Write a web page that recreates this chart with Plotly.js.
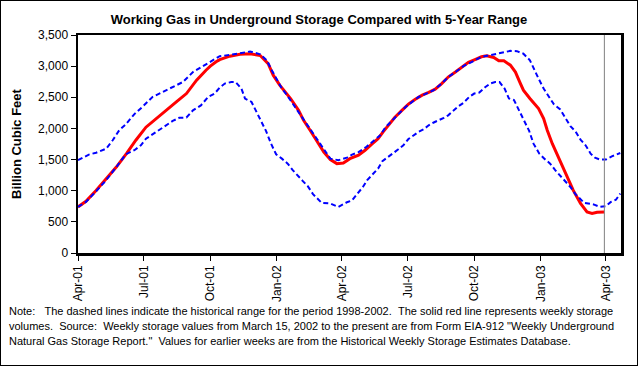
<!DOCTYPE html>
<html>
<head>
<meta charset="utf-8">
<script src="https://cdn.plot.ly/plotly-3.0.1.min.js"></script>
<style>
  html, body { margin: 0; padding: 0; background: #fff; }
  #wrap { position: relative; width: 638px; height: 366px; }
  #chart { width: 638px; height: 366px; }
  #frame { position: absolute; left: 0; top: 0; width: 636px; height: 364px; border: 1px solid #000; pointer-events: none; }
</style>
</head>
<body>
<div id="wrap"><div id="chart"></div><div id="frame"></div></div>
<script>
// Weekly working gas in storage (Bcf)
const actualDates = ['2001-04-01','2001-04-12','2001-04-26','2001-05-10','2001-05-24','2001-06-07','2001-06-20','2001-07-04','2001-07-18','2001-08-01','2001-08-15','2001-08-29','2001-09-12','2001-09-25','2001-10-01','2001-10-09','2001-10-14','2001-10-28','2001-11-11','2001-11-25','2001-12-09','2001-12-20','2001-12-27','2002-01-05','2002-01-20','2002-01-31','2002-02-07','2002-02-16','2002-02-25','2002-03-07','2002-03-16','2002-03-25','2002-04-03','2002-04-12','2002-04-24','2002-05-03','2002-05-12','2002-05-21','2002-05-28','2002-06-04','2002-06-13','2002-06-23','2002-07-02','2002-07-11','2002-07-21','2002-07-30','2002-08-08','2002-08-17','2002-08-26','2002-09-05','2002-09-14','2002-09-23','2002-10-02','2002-10-11','2002-10-18','2002-10-28','2002-11-04','2002-11-11','2002-11-20','2002-11-27','2002-12-03','2002-12-08','2002-12-17','2002-12-29','2003-01-05','2003-01-10','2003-01-17','2003-01-24','2003-02-01','2003-02-08','2003-02-15','2003-02-25','2003-03-06','2003-03-13','2003-03-20','2003-03-30'];
const actualValues = [740,830,1005,1185,1380,1595,1810,2020,2160,2290,2425,2560,2775,2935,3000,3070,3105,3160,3190,3200,3170,3040,2855,2695,2480,2290,2130,1970,1810,1620,1500,1435,1445,1515,1570,1650,1745,1835,1945,2050,2175,2290,2390,2465,2535,2580,2630,2720,2825,2905,2985,3060,3105,3150,3165,3140,3085,3085,3015,2905,2745,2615,2480,2320,2160,1970,1755,1570,1380,1195,1005,795,660,635,655,660];

// 5-year maximum (1998-2002)
const maxDates = ['2001-04-01','2001-04-16','2001-04-26','2001-05-10','2001-05-19','2001-05-28','2001-06-06','2001-06-18','2001-06-29','2001-07-13','2001-07-27','2001-08-10','2001-08-24','2001-09-07','2001-09-21','2001-10-05','2001-10-14','2001-10-28','2001-11-11','2001-11-25','2001-12-09','2001-12-18','2001-12-25','2002-01-01','2002-01-08','2002-01-15','2002-01-26','2002-02-05','2002-02-14','2002-02-23','2002-03-04','2002-03-16','2002-03-27','2002-04-08','2002-04-15','2002-04-24','2002-05-05','2002-05-14','2002-05-24','2002-05-31','2002-06-09','2002-06-18','2002-06-28','2002-07-07','2002-07-16','2002-07-25','2002-08-06','2002-08-17','2002-08-26','2002-09-05','2002-09-16','2002-09-28','2002-10-11','2002-10-23','2002-11-06','2002-11-20','2002-11-29','2002-12-08','2002-12-17','2002-12-22','2002-12-29','2003-01-05','2003-01-12','2003-01-19','2003-01-28','2003-02-04','2003-02-11','2003-02-18','2003-02-25','2003-03-04','2003-03-11','2003-03-17','2003-03-24','2003-04-01','2003-04-10','2003-04-21'];
const maxValues = [1490,1580,1610,1675,1810,1970,2065,2230,2345,2505,2585,2665,2745,2905,3000,3105,3160,3180,3210,3235,3190,3095,2935,2775,2640,2535,2345,2175,2025,1865,1705,1515,1490,1530,1580,1620,1705,1795,1890,2015,2120,2230,2345,2425,2505,2550,2615,2720,2825,2905,3000,3070,3150,3175,3210,3245,3240,3200,3095,2960,2800,2640,2520,2390,2305,2170,2035,1955,1820,1730,1595,1530,1500,1500,1555,1605];

// 5-year minimum (1998-2002)
const minDates = ['2001-04-01','2001-04-12','2001-04-26','2001-05-10','2001-05-24','2001-06-06','2001-06-18','2001-06-27','2001-07-04','2001-07-13','2001-07-27','2001-08-10','2001-08-19','2001-08-29','2001-09-07','2001-09-18','2001-09-28','2001-10-07','2001-10-14','2001-10-21','2001-10-30','2001-11-05','2001-11-13','2001-11-18','2001-11-27','2001-12-03','2001-12-10','2001-12-17','2001-12-24','2001-12-31','2002-01-08','2002-01-16','2002-01-23','2002-01-30','2002-02-06','2002-02-13','2002-02-20','2002-03-04','2002-03-16','2002-03-27','2002-04-08','2002-04-15','2002-04-23','2002-04-30','2002-05-06','2002-05-14','2002-05-21','2002-05-27','2002-06-03','2002-06-10','2002-06-18','2002-06-25','2002-07-02','2002-07-09','2002-07-16','2002-07-23','2002-07-30','2002-08-06','2002-08-13','2002-08-20','2002-08-26','2002-09-02','2002-09-09','2002-09-16','2002-09-24','2002-10-01','2002-10-08','2002-10-16','2002-10-23','2002-10-30','2002-11-05','2002-11-12','2002-11-18','2002-11-25','2002-12-03','2002-12-09','2002-12-16','2002-12-22','2002-12-30','2003-01-06','2003-01-14','2003-01-21','2003-01-28','2003-02-04','2003-02-11','2003-02-18','2003-03-02','2003-03-15','2003-03-24','2003-04-01','2003-04-08','2003-04-15','2003-04-21'];
const minValues = [740,820,990,1170,1380,1585,1650,1730,1835,1905,2025,2120,2170,2175,2290,2370,2505,2560,2655,2720,2745,2745,2640,2480,2425,2280,2120,1960,1755,1585,1515,1435,1330,1235,1155,1070,945,805,795,740,815,845,955,1060,1170,1275,1355,1475,1530,1595,1665,1730,1830,1890,1945,1985,2050,2095,2130,2170,2210,2290,2355,2410,2505,2560,2575,2660,2720,2745,2745,2640,2480,2455,2275,2120,1960,1755,1595,1515,1435,1330,1235,1155,1060,945,805,780,740,750,820,855,955];

const xTickDates = ['2001-04-01','2001-07-01','2001-10-01','2002-01-01','2002-04-01','2002-07-01','2002-10-01','2003-01-01','2003-04-01'];
const xTickLabels = ['Apr-01','Jul-01','Oct-01','Jan-02','Apr-02','Jul-02','Oct-02','Jan-03','Apr-03'];
const currentWeek = '2003-03-30';

const titleText = 'Working Gas in Underground Storage Compared with 5-Year Range';
const yTitleText = 'Billion Cubic Feet';
const noteLines = [
  'Note:\u00a0\u00a0\u00a0The dashed lines indicate the historical range for the period 1998-2002.\u00a0\u00a0The solid red line represents weekly storage',
  'volumes.\u00a0\u00a0Source:\u00a0\u00a0Weekly storage values from March 15, 2002 to the present are from Form EIA-912 "Weekly Underground',
  'Natural Gas Storage Report."\u00a0\u00a0Values for earlier weeks are from the Historical Weekly Storage Estimates Database.'
];

const FONT = 'Liberation Sans, Arial, sans-serif';

const traces = [
  { x: actualDates, y: actualValues, type: 'scatter', mode: 'lines', name: 'Working gas',
    line: { color: '#FF0000', width: 3 } },
  { x: maxDates, y: maxValues, type: 'scatter', mode: 'lines', name: '5-year max',
    line: { color: '#0000FF', width: 2, dash: '5px,3px' } },
  { x: minDates, y: minValues, type: 'scatter', mode: 'lines', name: '5-year min',
    line: { color: '#0000FF', width: 2, dash: '5px,3px' } }
];

const noteY = [-0.266, -0.335, -0.404];
const annotations = noteLines.map((t, i) => ({
  text: t, xref: 'paper', yref: 'paper', x: -0.1308, y: noteY[i],
  xanchor: 'left', yanchor: 'middle', showarrow: false, align: 'left',
  font: { family: FONT, size: 11, color: '#000' }
}));

const layout = {
  width: 638, height: 366,
  margin: { l: 78, r: 17, t: 35, b: 113 },
  paper_bgcolor: '#fff', plot_bgcolor: '#fff',
  showlegend: false,
  font: { family: FONT, size: 12, color: '#000' },
  title: { text: '<b>' + titleText + '</b>', font: { family: FONT, size: 13, color: '#000' },
           x: 0.5, xref: 'container', xanchor: 'center', y: 0.948, yref: 'container', yanchor: 'middle' },
  xaxis: {
    type: 'date', range: ['2001-04-01', '2003-04-22'],
    tickmode: 'array', tickvals: xTickDates, ticktext: xTickLabels, tickangle: -90,
    ticks: 'outside', ticklen: 5, tickwidth: 1, tickcolor: '#000',
    showline: true, linewidth: 2.5, linecolor: '#000', mirror: true,
    showgrid: false, zeroline: false,
    tickfont: { family: FONT, size: 12, color: '#000' }
  },
  yaxis: {
    range: [0, 3500], dtick: 500, tick0: 0, tickformat: ',d',
    ticks: 'outside', ticklen: 5, tickwidth: 1, tickcolor: '#000',
    showline: true, linewidth: 2.5, linecolor: '#000', mirror: true,
    showgrid: false, zeroline: false,
    tickfont: { family: FONT, size: 12, color: '#000' },
    title: { text: '<b>' + yTitleText + '</b>', font: { family: FONT, size: 13, color: '#000' }, standoff: 14 }
  },
  shapes: [
    { type: 'line', xref: 'x', yref: 'paper', x0: currentWeek, x1: currentWeek, y0: 0, y1: 1,
      line: { color: '#808080', width: 1 } }
  ],
  annotations: annotations
};

Plotly.newPlot('chart', traces, layout, { displayModeBar: false, staticPlot: true });
</script>
</body>
</html>
